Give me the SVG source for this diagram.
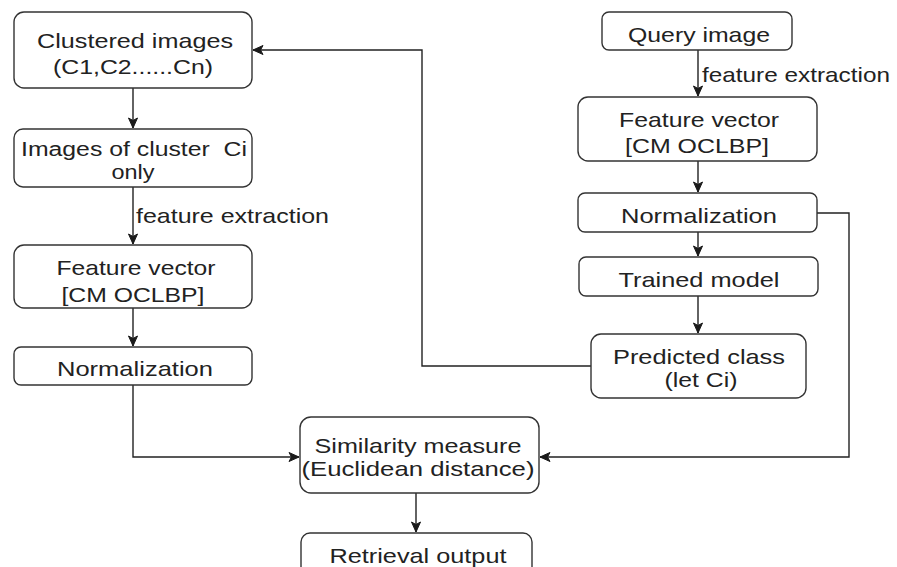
<svg xmlns="http://www.w3.org/2000/svg" width="897" height="567" viewBox="0 0 897 567">
<defs>
<marker id="ah" markerUnits="userSpaceOnUse" markerWidth="12" markerHeight="12" viewBox="0 0 12 12" refX="11" refY="6" orient="auto">
<path d="M1,1.5 L11,6 L1,10.5 L3.5,6 Z" fill="#1a1a1a" stroke="#1a1a1a" stroke-width="1"/>
</marker>
</defs>
<style>
rect{fill:#fff;stroke:#333;stroke-width:1.4}
text{font-family:"Liberation Sans",Arial,sans-serif;font-size:21px;fill:#222;text-anchor:middle;white-space:pre}
.lbl{text-anchor:start}
.sm{font-size:20px}
.c{fill:none;stroke:#222;stroke-width:1.4}
</style>
<rect x="0" y="0" width="897" height="567" style="fill:#fff;stroke:none"/>
<g id="connectors">
<path class="c" d="M133,88 V128" marker-end="url(#ah)"/>
<path class="c" d="M133,187 V244" marker-end="url(#ah)"/>
<path class="c" d="M133,308 V346" marker-end="url(#ah)"/>
<path class="c" d="M133,385 V457 H299" marker-end="url(#ah)"/>
<path class="c" d="M698,50 V96" marker-end="url(#ah)"/>
<path class="c" d="M698,161 V192" marker-end="url(#ah)"/>
<path class="c" d="M698,232 V256" marker-end="url(#ah)"/>
<path class="c" d="M698,296 V333" marker-end="url(#ah)"/>
<path class="c" d="M591,366 H422 V50 H253" marker-end="url(#ah)"/>
<path class="c" d="M817,213 H849 V457 H540" marker-end="url(#ah)"/>
<path class="c" d="M416,493 V532" marker-end="url(#ah)"/>
<text class="lbl" x="136" y="223" textLength="193" lengthAdjust="spacingAndGlyphs">feature extraction</text>
<text class="lbl" x="702" y="82" textLength="188" lengthAdjust="spacingAndGlyphs">feature extraction</text>
</g>
<g id="clustered">
<rect x="14" y="12" width="238" height="76" rx="10"/>
<text x="135" y="48" textLength="196" lengthAdjust="spacingAndGlyphs">Clustered images</text>
<text x="133" y="74" textLength="160" lengthAdjust="spacingAndGlyphs">(C1,C2......Cn)</text>
</g>
<g id="cluster-ci">
<rect x="14" y="129" width="238" height="58" rx="9"/>
<text class="sm" x="134" y="156" textLength="226" lengthAdjust="spacingAndGlyphs">Images of cluster  Ci</text>
<text class="sm" x="133" y="179" textLength="43" lengthAdjust="spacingAndGlyphs">only</text>
</g>
<g id="fv-left">
<rect x="14" y="245" width="238" height="63" rx="10"/>
<text x="136" y="275" textLength="159" lengthAdjust="spacingAndGlyphs">Feature vector</text>
<text x="133" y="302" textLength="143" lengthAdjust="spacingAndGlyphs">[CM OCLBP]</text>
</g>
<g id="norm-left">
<rect x="14" y="347" width="238" height="38" rx="7"/>
<text x="135" y="376" textLength="156" lengthAdjust="spacingAndGlyphs">Normalization</text>
</g>
<g id="query">
<rect x="602" y="12" width="190" height="38" rx="7"/>
<text x="699" y="42" textLength="142" lengthAdjust="spacingAndGlyphs">Query image</text>
</g>
<g id="fv-right">
<rect x="578" y="97" width="239" height="64" rx="10"/>
<text x="699" y="127" textLength="160" lengthAdjust="spacingAndGlyphs">Feature vector</text>
<text x="697" y="153" textLength="144" lengthAdjust="spacingAndGlyphs">[CM OCLBP]</text>
</g>
<g id="norm-right">
<rect x="578" y="193" width="239" height="39" rx="7"/>
<text x="699" y="223" textLength="156" lengthAdjust="spacingAndGlyphs">Normalization</text>
</g>
<g id="trained">
<rect x="579" y="257" width="239" height="39" rx="7"/>
<text x="699" y="287" textLength="161" lengthAdjust="spacingAndGlyphs">Trained model</text>
</g>
<g id="predicted">
<rect x="591" y="334" width="215" height="64" rx="10"/>
<text x="699" y="364" textLength="172" lengthAdjust="spacingAndGlyphs">Predicted class</text>
<text x="701" y="387" textLength="73" lengthAdjust="spacingAndGlyphs">(let Ci)</text>
</g>
<g id="similarity">
<rect x="300" y="417" width="239" height="76" rx="11"/>
<text x="418" y="453" textLength="207" lengthAdjust="spacingAndGlyphs">Similarity measure</text>
<text x="418" y="476" textLength="233" lengthAdjust="spacingAndGlyphs">(Euclidean distance)</text>
</g>
<g id="retrieval">
<rect x="301" y="533" width="231" height="60" rx="9"/>
<text x="418" y="563" textLength="177" lengthAdjust="spacingAndGlyphs">Retrieval output</text>
</g>
</svg>
